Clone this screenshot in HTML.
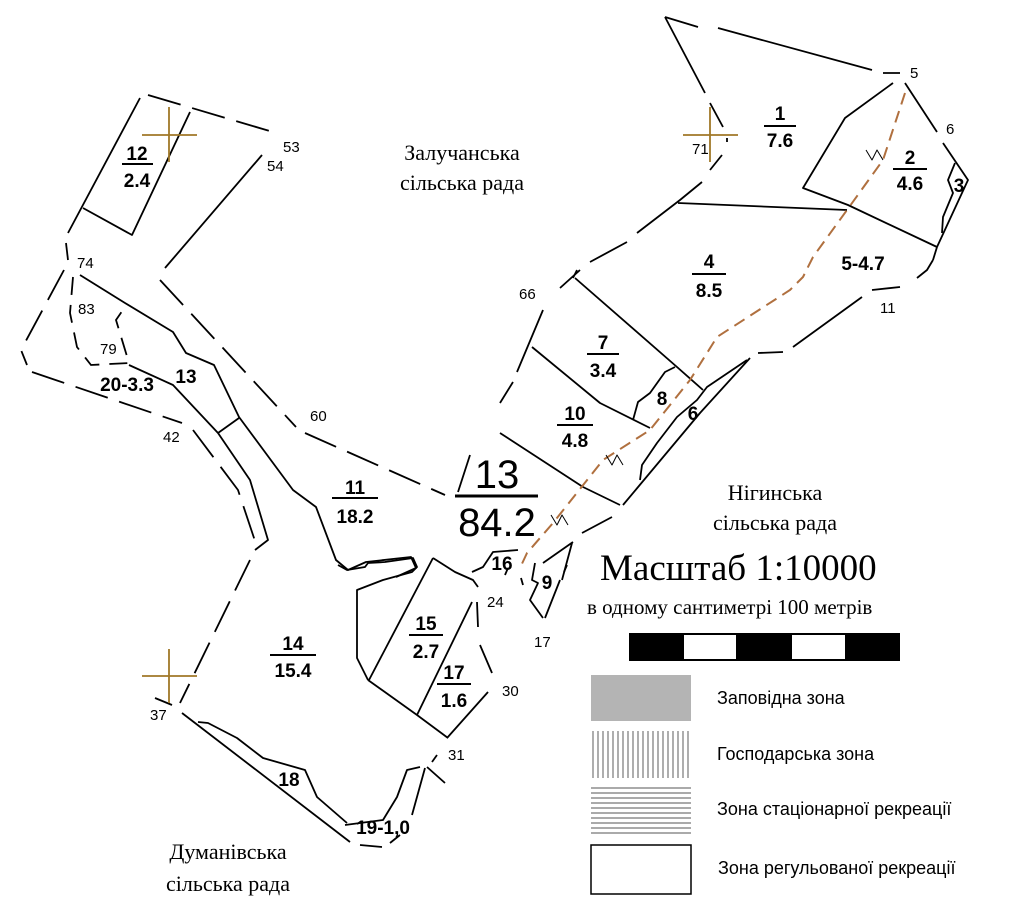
<!DOCTYPE html>
<html><head><meta charset="utf-8"><style>
html,body{margin:0;padding:0;background:#fff;}
svg{display:block}
.l{fill:none;stroke:#000;stroke-width:1.8;stroke-linejoin:round}
.d{fill:none;stroke:#000;stroke-width:1.8;stroke-dasharray:34 12}
.s{font-family:"Liberation Sans","DejaVu Sans",sans-serif;fill:#000}
.b{font-family:"Liberation Sans","DejaVu Sans",sans-serif;font-weight:bold;fill:#000;font-size:19px;text-anchor:middle}
.n{font-family:"Liberation Sans","DejaVu Sans",sans-serif;fill:#000;font-size:15px}
.r{font-family:"Liberation Serif","DejaVu Serif",serif;fill:#000}
</style></head><body>
<svg width="1024" height="902" viewBox="0 0 1024 902" xmlns="http://www.w3.org/2000/svg">
<!-- NW block 12 -->
<path class="d" d="M148 95 L273 132"/>
<path class="l" d="M140 98 L68 233"/>
<path class="l" d="M190 112 L132 235 L83 208"/>
<path class="l" d="M262 155 L165 268"/>
<path class="d" d="M160 280 L296 427"/>
<path class="d" d="M305 433 L445 495"/>
<path class="l" d="M66 243 L68 260"/>
<path class="d" d="M64 270 L21 350 L27 365"/>
<path class="d" d="M32 372 L182 423"/>
<path class="d" d="M193 430 L238 490 L257 547"/>
<path class="l" d="M80 275 L125 303 L173 332 L186 353 L214 365 L239 417 L293 490 L316 507 L336 560 L348 570 L366 562 L411 557 L416 568 L396 577"/>
<path class="l" d="M129 365 L173 385 L218 433 L250 480 L268 540 L255 550"/>
<path class="l" d="M218 433 L239 418"/>
<path class="d" style="stroke-dasharray:18 10" d="M73 277 L70 313 L77 347 L91 365 L129 363 L116 320 L125 307"/>
<!-- south-west -->
<path class="d" d="M250 560 L180 703"/>
<path class="l" d="M155 698 L172 705"/>
<path class="l" d="M182 713 L350 842"/>
<path class="l" d="M198 722 L208 723 L237 738 L263 758 L305 770 L317 797 L347 823"/>
<path class="l" d="M345 825 L383 820 L397 797 L407 770 L420 767"/>
<path class="l" d="M360 845 L382 847 M390 843 L400 835 M412 815 L425 768 M427 767 L445 783 M432 762 L437 755"/>
<path class="l" d="M447 738 L488 692"/>
<path class="l" d="M417 715 L472 602"/>
<path class="l" d="M369 680 L433 558"/>
<path class="l" d="M368 680 L417 715 L448 738"/>
<path class="l" d="M368 680 L357 658 L357 590 L383 580 L412 572 L417 567 L413 558 L385 562 L368 563 L365 567 L347 570 L338 565"/>
<path class="l" d="M433 558 L455 572 L473 580 L478 587"/>
<path class="l" d="M472 572 L483 567 L493 552 L518 550"/>
<path class="l" d="M477 602 L478 627 M480 645 L492 673 M505 575 L508 568 M521 578 L523 585"/>
<path class="l" d="M535 563 L532 580 L538 583 L530 600 L543 618 M560 580 L545 618 M567 565 L564 572"/>
<!-- north-east -->
<path class="l" d="M665 17 L698 27 M718 28 L872 70 M883 73 L900 73"/>
<path class="l" d="M665 17 L705 93 M710 103 L723 127 M727 138 L727 142 M722 155 L710 170"/>
<path class="l" d="M702 182 L680 200 L637 233 M627 242 L590 262 M580 270 L560 288"/>
<path class="l" d="M543 310 L517 372 M513 382 L500 403"/>
<path class="l" d="M678 203 L847 210"/>
<path class="l" d="M893 83 L845 118 L803 188 L848 205 L937 247"/>
<path class="l" d="M905 83 L937 132 M943 143 L968 180 L937 247 L933 260"/>
<path class="l" d="M955 163 L948 180 L953 193 L943 217 L942 233"/>
<path class="l" d="M933 260 L927 270 L917 278 M900 287 L872 290 M862 297 L793 347 M783 352 L758 353"/>
<path class="l" d="M747 360 L707 387 L697 400 L677 417 L657 443 L642 465 L640 480"/>
<path class="l" d="M750 358 L700 413 L623 505"/>
<path class="l" d="M573 278 L577 270 M575 278 L677 367 L703 390"/>
<path class="l" d="M532 347 L600 403 L650 428"/>
<path class="l" d="M675 367 L665 372 L650 393 L638 402 L633 420"/>
<path class="l" d="M500 433 L583 487 L620 505"/>
<path class="l" d="M612 517 L582 533 M573 542 L543 563 M572 543 L562 580"/>
<path class="l" d="M458 492 L470 455"/>
<line x1="455" y1="496" x2="538" y2="496" stroke="#000" stroke-width="3"/>
<!-- orange route -->
<path fill="none" stroke="#b0703f" stroke-width="2" stroke-dasharray="12 7" d="M905 93 L883 160 L847 210 L813 257 L803 277 L790 290 L717 337 L707 353 L690 380 L650 430 L603 460 L553 523 L527 553 L520 568"/>
<path class="l" style="stroke-width:1" d="M866 150 L872 160 L877 150 L883 160 M606 455 L612 465 L617 455 L623 465 M551 515 L557 525 L562 515 L568 525"/>
<!-- crosshairs -->
<path stroke="#a07828" stroke-width="1.8" fill="none" d="M169 107 L169 162 M142 135 L197 135 M710 107 L710 162 M683 135 L738 135 M169 649 L169 703 M142 676 L197 676"/>
<!-- fraction labels -->
<g class="b">
<text x="137" y="160">12</text><line x1="122" y1="164" x2="153" y2="164" stroke="#000" stroke-width="2"/><text x="137" y="187">2.4</text>
<text x="780" y="120">1</text><line x1="764" y1="126" x2="796" y2="126" stroke="#000" stroke-width="2"/><text x="780" y="147">7.6</text>
<text x="910" y="164">2</text><line x1="893" y1="169" x2="927" y2="169" stroke="#000" stroke-width="2"/><text x="910" y="190">4.6</text>
<text x="959" y="192">3</text>
<text x="709" y="268">4</text><line x1="692" y1="274" x2="726" y2="274" stroke="#000" stroke-width="2"/><text x="709" y="297">8.5</text>
<text x="863" y="270">5-4.7</text>
<text x="603" y="349">7</text><line x1="587" y1="354" x2="619" y2="354" stroke="#000" stroke-width="2"/><text x="603" y="377">3.4</text>
<text x="662" y="405">8</text>
<text x="693" y="420">6</text>
<text x="575" y="420">10</text><line x1="557" y1="425" x2="593" y2="425" stroke="#000" stroke-width="2"/><text x="575" y="447">4.8</text>
<text x="355" y="494">11</text><line x1="332" y1="498" x2="378" y2="498" stroke="#000" stroke-width="2"/><text x="355" y="523">18.2</text>
<text x="127" y="391">20-3.3</text>
<text x="186" y="383">13</text>
<text x="293" y="650">14</text><line x1="270" y1="655" x2="316" y2="655" stroke="#000" stroke-width="2"/><text x="293" y="677">15.4</text>
<text x="426" y="630">15</text><line x1="409" y1="635" x2="443" y2="635" stroke="#000" stroke-width="2"/><text x="426" y="658">2.7</text>
<text x="454" y="679">17</text><line x1="437" y1="684" x2="471" y2="684" stroke="#000" stroke-width="2"/><text x="454" y="707">1.6</text>
<text x="502" y="570">16</text>
<text x="547" y="589">9</text>
<text x="289" y="786">18</text>
<text x="383" y="834">19-1,0</text>
</g>
<text class="s" x="497" y="488" font-size="40" text-anchor="middle">13</text>
<text class="s" x="497" y="536" font-size="40" text-anchor="middle">84.2</text>
<!-- point numbers -->
<g class="n">
<text x="283" y="152">53</text><text x="267" y="171">54</text>
<text x="77" y="268">74</text><text x="78" y="314">83</text><text x="100" y="354">79</text>
<text x="310" y="421">60</text><text x="163" y="442">42</text>
<text x="519" y="299">66</text><text x="692" y="154">71</text>
<text x="910" y="78">5</text><text x="946" y="134">6</text><text x="880" y="313">11</text>
<text x="487" y="607">24</text><text x="534" y="647">17</text><text x="502" y="696">30</text>
<text x="448" y="760">31</text><text x="150" y="720">37</text>
</g>
<!-- region names -->
<g class="r" font-size="22" text-anchor="middle">
<text x="462" y="160">Залучанська</text><text x="462" y="190">сільська рада</text>
<text x="775" y="500">Нігинська</text><text x="775" y="530">сільська рада</text>
<text x="228" y="859">Думанівська</text><text x="228" y="891">сільська рада</text>
</g>
<!-- legend -->
<text class="r" x="600" y="580" font-size="37">Масштаб  1:10000</text>
<text class="r" x="587" y="614" font-size="21">в одному сантиметрі 100 метрів</text>
<rect x="629" y="633" width="271" height="28" fill="#000"/>
<rect x="684" y="635" width="52" height="24" fill="#fff"/>
<rect x="792" y="635" width="53" height="24" fill="#fff"/>
<rect x="591" y="675" width="100" height="46" fill="#b4b4b4"/>
<g stroke="#777" stroke-width="1.2">
<path d="M593 731V778M598 731V778M603 731V778M608 731V778M613 731V778M618 731V778M623 731V778M628 731V778M633 731V778M638 731V778M643 731V778M648 731V778M653 731V778M658 731V778M663 731V778M668 731V778M673 731V778M678 731V778M683 731V778M688 731V778"/>
<path d="M591 788H691M591 793H691M591 798H691M591 803H691M591 808H691M591 813H691M591 818H691M591 823H691M591 828H691M591 833H691"/>
</g>
<rect x="591" y="845" width="100" height="49" fill="#fff" stroke="#000" stroke-width="1.5"/>
<g class="s" font-size="18">
<text x="717" y="704">Заповідна зона</text>
<text x="717" y="760">Господарська зона</text>
<text x="717" y="815">Зона стаціонарної рекреації</text>
<text x="718" y="874">Зона регульованої рекреації</text>
</g>
</svg>
</body></html>
